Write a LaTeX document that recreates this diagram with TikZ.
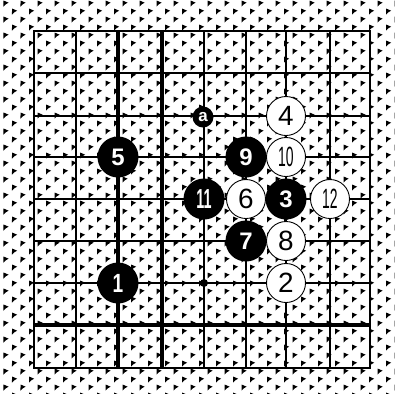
\documentclass[tikz,border=0pt]{standalone}
\usepackage{fontspec}
\setmainfont{Liberation Sans}
\begin{document}
\begin{tikzpicture}[x=1bp,y=-1bp,
  gridline/.style={line width=1.5bp},
  border/.style={line width=1.8bp},
  heavy/.style={line width=3.4bp},
  wst/.style={circle, draw=black, line width=0.9bp, fill=white, minimum size=39bp, inner sep=0pt, font=\fontsize{28}{28}\selectfont},
  bst/.style={circle, fill=black, text=white, minimum size=41bp, inner sep=0pt, font=\bfseries\fontsize{24}{24}\selectfont},
  mst/.style={circle, fill=black, text=white, minimum size=21bp, inner sep=0pt, font=\bfseries\fontsize{17}{17}\selectfont},
  hoshi/.style={circle, fill=black, minimum size=8bp, inner sep=0pt}]
\useasboundingbox (0,0) rectangle (395,394);
\fill[white] (0,0) rectangle (395,394);
% halftone dots
\fill[black] foreach \j [evaluate=\j as \off using {mod(\j,2)*8.5+3.5}, evaluate=\j as \yy using {0.5+8*\j}] in {0,...,49} {
  foreach \i [evaluate=\i as \xx using {\off+17*\i}] in {0,...,23} {
    (\xx,\yy) -- ++(5.2,2.2) -- ++(-2.6,1.4) -- ++(-2.6,2.4) -- cycle
  }
};
% grid
\foreach \x in {76,204,246,286,330} \draw[gridline] (\x,31) -- (\x,368);
\foreach \y in {73,116,157,199,241,283} \draw[gridline] (34,\y) -- (370,\y);
\draw[border] (34,31) rectangle (370,368);
\draw[heavy] (118,31) -- (118,368);
\draw[heavy] (162,31) -- (162,368);
\draw[line width=3.8bp] (34,325) -- (370,325);
% star point
\node[hoshi] (h) at (204,283) {};
% marker
\node[mst] (a) at (203,117) {a};
% black stones
\node[bst] (b1) at (118,283) {\scalebox{0.8}[1.1]{1}};
\node[bst] (b3) at (286,199) {3};
\node[bst] (b5) at (118,157) {5};
\node[bst] (b7) at (246,241) {7};
\node[bst] (b9) at (246,157) {9};
\node[bst] (b11) at (204,199) {\scalebox{0.6}[1.15]{11}};
% white stones
\node[wst] (w2) at (286,283) {2};
\node[wst] (w4) at (286,116) {4};
\node[wst] (w6) at (246,199) {6};
\node[wst] (w8) at (286,241) {8};
\node[wst] (w10) at (286,157) {\scalebox{0.5}[1.0]{10}};
\node[wst] (w12) at (330,199) {\scalebox{0.5}[1.0]{12}};
\end{tikzpicture}
\end{document}
